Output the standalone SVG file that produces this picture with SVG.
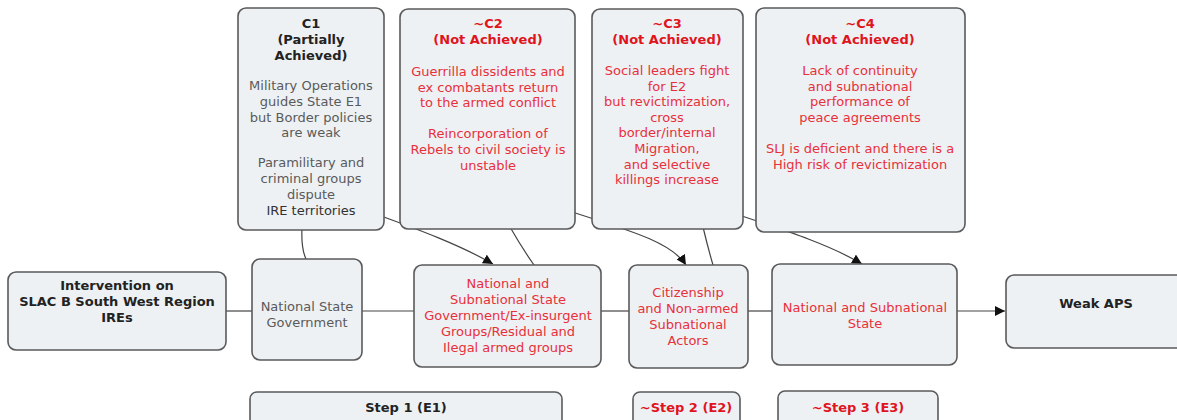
<svg xmlns="http://www.w3.org/2000/svg" width="1177" height="420" viewBox="0 0 1177 420">
<style>
.box{fill:#edf1f4;stroke:#5a5a5a;stroke-width:1.6}
text{font-family:"DejaVu Sans",Verdana,sans-serif;font-size:13px;text-anchor:middle}
.b{font-weight:bold;fill:#222}
.g{fill:#5a5a5a}
.d{fill:#333}
.r{fill:#e8303a}
.rb{fill:#e0141c;font-weight:bold}
.ln{fill:none;stroke:#444;stroke-width:1.2}
</style>
<defs>
<marker id="ah" viewBox="0 0 10 10" refX="10" refY="5" markerWidth="10" markerHeight="10" markerUnits="userSpaceOnUse" orient="auto">
<path d="M0,0 L10,5 L0,10 Z" fill="#111"/>
</marker>
</defs>
<rect width="1177" height="420" fill="#fff"/>
<g id="connectors">
<line class="ln" x1="226" y1="311" x2="252" y2="311"/>
<line class="ln" x1="362" y1="311" x2="414" y2="311"/>
<line class="ln" x1="601" y1="311" x2="629" y2="311"/>
<line class="ln" x1="748" y1="311" x2="772" y2="311"/>
<line class="ln" x1="957" y1="311" x2="1005" y2="311" marker-end="url(#ah)"/>
<path class="ln" d="M302,228 Q301,248 306,259"/>
<path class="ln" d="M370,212 C420,230 460,245 493,264" marker-end="url(#ah)"/>
<path class="ln" d="M510,227 Q522,248 534,265"/>
<path class="ln" d="M560,208 C620,228 670,240 686,265" marker-end="url(#ah)"/>
<path class="ln" d="M703,227 Q708,248 713,265"/>
<path class="ln" d="M730,212 C790,232 830,245 862,264" marker-end="url(#ah)"/>
</g>
<g id="c1">
<rect class="box" x="238" y="8" width="146" height="222" rx="8"/>
<text class="b" x="311" y="28">C1</text>
<text class="b" x="311" y="44">(Partially</text>
<text class="b" x="311" y="60">Achieved)</text>
<text class="g" x="311" y="90">Military Operations</text>
<text class="g" x="311" y="106">guides State E1</text>
<text class="g" x="311" y="122">but Border policies</text>
<text class="g" x="311" y="137">are weak</text>
<text class="g" x="311" y="167">Paramilitary and</text>
<text class="g" x="311" y="183">criminal groups</text>
<text class="g" x="311" y="199">dispute</text>
<text class="d" x="311" y="215">IRE territories</text>
</g>
<g id="c2">
<rect class="box" x="400" y="9" width="175" height="220" rx="8"/>
<text class="rb" x="488" y="28">~C2</text>
<text class="rb" x="488" y="44">(Not Achieved)</text>
<text class="r" x="488" y="76">Guerrilla dissidents and</text>
<text class="r" x="488" y="92">ex combatants return</text>
<text class="r" x="488" y="107">to the armed conflict</text>
<text class="r" x="488" y="138">Reincorporation of</text>
<text class="r" x="488" y="154">Rebels to civil society is</text>
<text class="r" x="488" y="170">unstable</text>
</g>
<g id="c3">
<rect class="box" x="592" y="9" width="151" height="220" rx="8"/>
<text class="rb" x="667" y="28">~C3</text>
<text class="rb" x="667" y="44">(Not Achieved)</text>
<text class="r" x="667" y="75">Social leaders fight</text>
<text class="r" x="667" y="91">for E2</text>
<text class="r" x="667" y="106">but revictimization,</text>
<text class="r" x="667" y="122">cross</text>
<text class="r" x="667" y="137">border/internal</text>
<text class="r" x="667" y="153">Migration,</text>
<text class="r" x="667" y="169">and selective</text>
<text class="r" x="667" y="184">killings increase</text>
</g>
<g id="c4">
<rect class="box" x="756" y="8" width="209" height="224" rx="8"/>
<text class="rb" x="860" y="28">~C4</text>
<text class="rb" x="860" y="44">(Not Achieved)</text>
<text class="r" x="860" y="75">Lack of continuity</text>
<text class="r" x="860" y="91">and subnational</text>
<text class="r" x="860" y="106">performance of</text>
<text class="r" x="860" y="122">peace agreements</text>
<text class="r" x="860" y="153">SLJ is deficient and there is a</text>
<text class="r" x="860" y="169">High risk of revictimization</text>
</g>
<g id="intervention">
<rect class="box" x="8" y="272" width="218" height="78" rx="8"/>
<text class="b" x="117" y="290">Intervention on</text>
<text class="b" x="117" y="306">SLAC B South West Region</text>
<text class="b" x="117" y="322">IREs</text>
</g>
<g id="nsg">
<rect class="box" x="252" y="259" width="110" height="101" rx="8"/>
<text class="g" x="307" y="311">National State</text>
<text class="g" x="307" y="327">Government</text>
</g>
<g id="nssg">
<rect class="box" x="414" y="265" width="187" height="102" rx="8"/>
<text class="r" x="508" y="288">National and</text>
<text class="r" x="508" y="304">Subnational State</text>
<text class="r" x="508" y="320">Government/Ex-insurgent</text>
<text class="r" x="508" y="336">Groups/Residual and</text>
<text class="r" x="508" y="352">Ilegal armed groups</text>
</g>
<g id="citizenship">
<rect class="box" x="629" y="265" width="119" height="103" rx="8"/>
<text class="r" x="688" y="297">Citizenship</text>
<text class="r" x="688" y="313">and Non-armed</text>
<text class="r" x="688" y="329">Subnational</text>
<text class="r" x="688" y="345">Actors</text>
</g>
<g id="nss">
<rect class="box" x="772" y="264" width="185" height="101" rx="8"/>
<text class="r" x="865" y="312">National and Subnational</text>
<text class="r" x="865" y="328">State</text>
</g>
<g id="weakaps">
<rect class="box" x="1006" y="275" width="180" height="73" rx="8"/>
<text class="b" x="1096" y="308">Weak APS</text>
</g>
<g id="step1">
<rect class="box" x="250" y="392" width="312" height="40" rx="7"/>
<text class="b" x="406" y="412">Step 1 (E1)</text>
</g>
<g id="step2">
<rect class="box" x="633" y="392" width="107" height="40" rx="7"/>
<text class="rb" x="686" y="412">~Step 2 (E2)</text>
</g>
<g id="step3">
<rect class="box" x="778" y="391" width="160" height="40" rx="7"/>
<text class="rb" x="858" y="412">~Step 3 (E3)</text>
</g>
</svg>
